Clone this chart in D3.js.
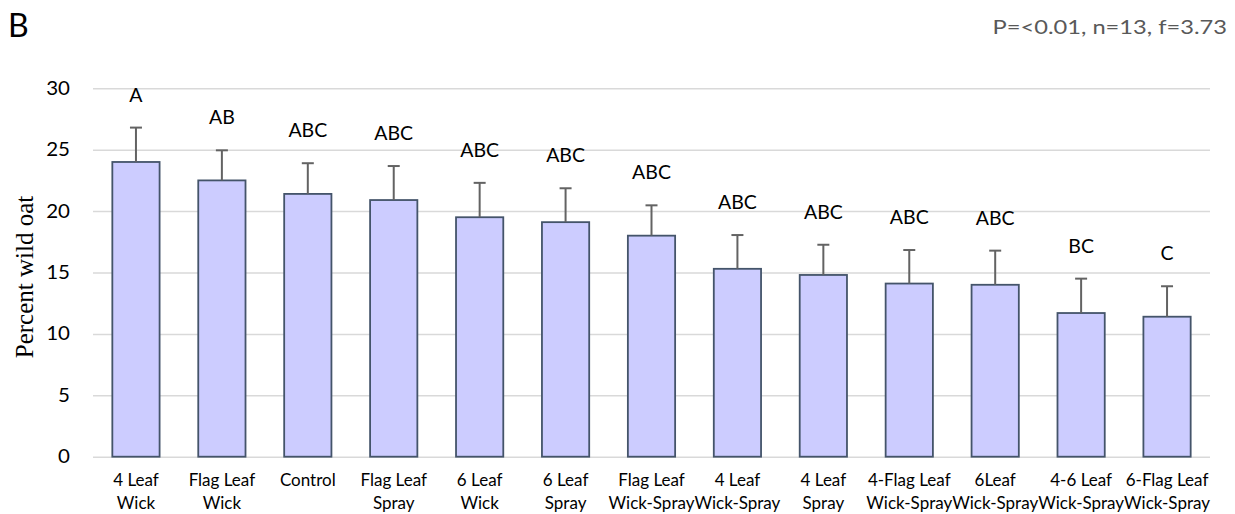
<!DOCTYPE html>
<html>
<head>
<meta charset="utf-8">
<script src="https://cdn.jsdelivr.net/npm/d3@7"></script>
<style>
  html, body { margin: 0; padding: 0; background: #fff; }
  svg { display: block; }
</style>
</head>
<body>
<svg id="chart" width="1235" height="514"></svg>
<script>
// Treatments, mean percent wild oat, standard error and significance letters
const categories = [
  ["4 Leaf", "Wick"], ["Flag Leaf", "Wick"], ["Control", ""], ["Flag Leaf", "Spray"],
  ["6 Leaf", "Wick"], ["6 Leaf", "Spray"], ["Flag Leaf", "Wick-Spray"], ["4 Leaf", "Wick-Spray"],
  ["4 Leaf", "Spray"], ["4-Flag Leaf", "Wick-Spray"], ["6Leaf", "Wick-Spray"],
  ["4-6 Leaf", "Wick-Spray"], ["6-Flag Leaf", "Wick-Spray"]
];
const means = [24.0, 22.5, 21.4, 20.9, 19.5, 19.1, 18.0, 15.3, 14.8, 14.1, 14.0, 11.7, 11.4];
const errors = [2.8, 2.45, 2.5, 2.77, 2.8, 2.76, 2.47, 2.75, 2.46, 2.73, 2.78, 2.8, 2.48];
const letters = ["A", "AB", "ABC", "ABC", "ABC", "ABC", "ABC", "ABC", "ABC", "ABC", "ABC", "BC", "C"];
const yTicks = [0, 5, 10, 15, 20, 25, 30];

const svg = d3.select("#chart");
const font = "Lato, 'Open Sans', sans-serif";
const plotLeft = 93, plotRight = 1210, plotTop = 88.3, plotBottom = 456.7;

const x = d3.scaleBand()
  .domain(d3.range(categories.length))
  .range([plotLeft, plotRight])
  .paddingInner(0.45)
  .paddingOuter(0.225);
const y = d3.scaleLinear().domain([0, 30]).range([plotBottom, plotTop]);

// Place a label anchored at (px, py), optionally stretched horizontally by k
function label(parent, px, py, str, size, anchor, k, fill) {
  return parent.append("text")
    .attr("transform", `translate(${px},${py}) scale(${k || 1},1)`)
    .attr("text-anchor", anchor)
    .attr("font-family", font)
    .attr("font-size", size)
    .attr("fill", fill || "#000")
    .text(str);
}

// Horizontal gridlines and y tick labels
const tickPad = 23, tickStretch = 1.08;
const yAxis = d3.axisLeft(y).tickValues(yTicks).tickSize(-(plotRight - plotLeft)).tickPadding(tickPad);
const gy = svg.append("g").attr("transform", `translate(${plotLeft},0)`).call(yAxis);
gy.select(".domain").remove();
gy.selectAll(".tick line").attr("stroke", "#d9d9d9").attr("stroke-width", 1.5);
gy.selectAll(".tick text")
  .attr("x", -tickPad / tickStretch)
  .attr("transform", `scale(${tickStretch},1)`)
  .attr("font-family", font).attr("font-size", 19).attr("fill", "#000");

// Bars
svg.append("g").selectAll("rect")
  .data(means)
  .join("rect")
  .attr("x", (d, i) => x(i))
  .attr("y", d => y(d))
  .attr("width", x.bandwidth())
  .attr("height", d => y(0) - y(d))
  .attr("fill", "#ccccff")
  .attr("stroke", "#44546a")
  .attr("stroke-width", 1.8);

// Upper error bars
const eb = svg.append("g").attr("stroke", "#636363").attr("stroke-width", 2);
means.forEach((m, i) => {
  const cx = x(i) + x.bandwidth() / 2;
  eb.append("line").attr("x1", cx).attr("x2", cx).attr("y1", y(m)).attr("y2", y(m + errors[i]));
  eb.append("line").attr("x1", cx - 6).attr("x2", cx + 6)
    .attr("y1", y(m + errors[i])).attr("y2", y(m + errors[i]));
});

// Significance letters above error bars
const lg = svg.append("g");
letters.forEach((t, i) => {
  label(lg, x(i) + x.bandwidth() / 2, y(means[i] + errors[i]) - 26, t, 19.5, "middle");
});

// Category labels on two lines
const cl = svg.append("g");
categories.forEach((c, i) => {
  const cx = x(i) + x.bandwidth() / 2;
  label(cl, cx, 486, c[0], 17, "middle");
  if (c[1]) label(cl, cx, 508.5, c[1], 17, "middle");
});

// Axis title
svg.append("text")
  .attr("transform", `translate(33,277) rotate(-90)`)
  .attr("text-anchor", "middle")
  .attr("font-family", "'Liberation Serif', 'Times New Roman', serif")
  .attr("font-size", 25)
  .attr("fill", "#000")
  .text("Percent wild oat");

// Panel letter and statistics
label(svg, 8, 37, "B", 32, "start");
label(svg, 1227, 33.5, "P=<0.01, n=13, f=3.73", 18.5, "end", 1.28, "#595959");
</script>
</body>
</html>
